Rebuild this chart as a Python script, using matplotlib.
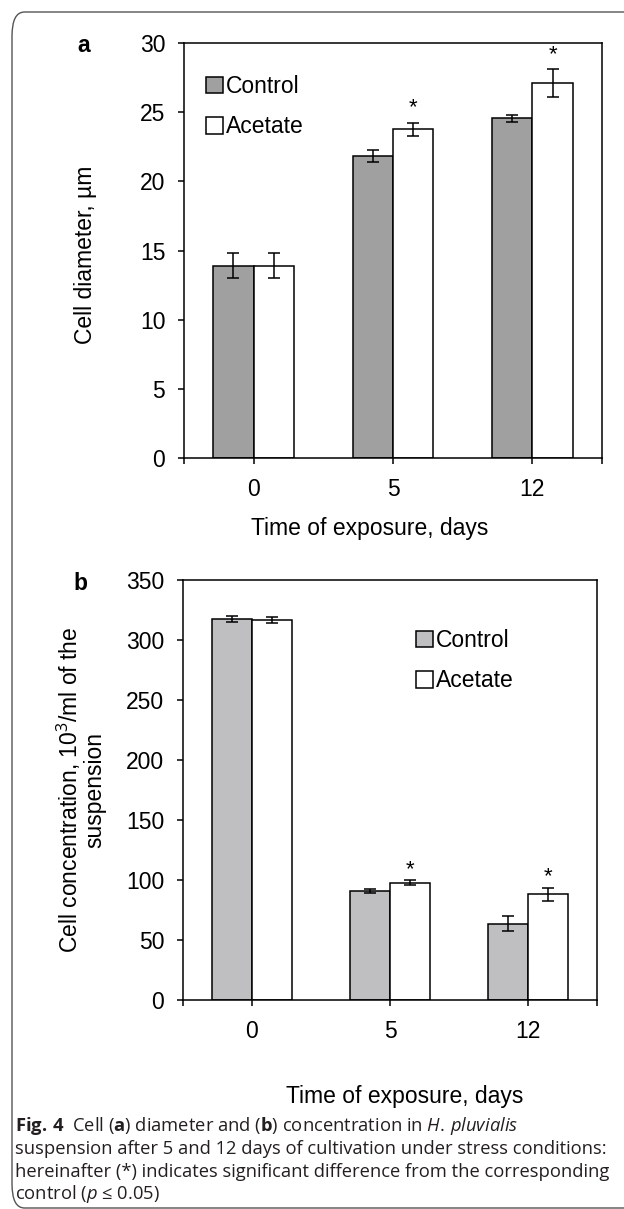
import matplotlib
matplotlib.use("Agg")
import matplotlib.pyplot as plt
from matplotlib.patches import FancyBboxPatch
import numpy as np

plt.rcParams['font.family'] = ['Liberation Sans', 'DejaVu Sans']
plt.rcParams['mathtext.fontset'] = 'custom'
plt.rcParams['mathtext.rm'] = 'Open Sans'
plt.rcParams['mathtext.bf'] = 'Open Sans:bold'
plt.rcParams['mathtext.it'] = 'Open Sans:italic'

# data
days = ["0", "5", "12"]
diam_control = [13.9, 21.85, 24.55]
diam_control_err = [0.9, 0.42, 0.25]
diam_acetate = [13.9, 23.75, 27.1]
diam_acetate_err = [0.9, 0.5, 1.0]
diam_signif = [False, True, True]

conc_control = [317.5, 90.6, 63.6]
conc_control_err = [2.5, 1.7, 6.4]
conc_acetate = [317.0, 97.8, 88.3]
conc_acetate_err = [2.5, 1.8, 5.4]
conc_signif = [False, True, True]

W, H = 624, 1209
fig = plt.figure(figsize=(W / 100, H / 100), dpi=100)

def px_axes(l, r, t, b):
    return fig.add_axes([l / W, 1 - b / H, (r - l) / W, (b - t) / H])

def panel(ax, ctrl, ctrl_err, acet, acet_err, signif, ctrl_color, ymax, ystep, star_pad):
    x = np.arange(len(days))
    w = 0.29
    ax.bar(x - w / 2, ctrl, w, color=ctrl_color, edgecolor='black', linewidth=1.1, label='Control')
    ax.bar(x + w / 2, acet, w, color='white', edgecolor='black', linewidth=1.1, label='Acetate')
    ax.errorbar(x - w / 2, ctrl, yerr=ctrl_err, fmt='none', ecolor='black',
                elinewidth=1.1, capsize=4, capthick=1.1)
    ax.errorbar(x + w / 2, acet, yerr=acet_err, fmt='none', ecolor='black',
                elinewidth=1.1, capsize=4, capthick=1.1)
    for i, s in enumerate(signif):
        if s:
            ax.annotate('*', (x[i] + w / 2, acet[i] + acet_err[i]), xytext=(0, star_pad),
                        textcoords='offset points', ha='center', va='bottom', fontsize=16)
    ax.set_xlim(-0.5, 2.5)
    ax.set_ylim(0, ymax)
    ax.set_yticks(np.arange(0, ymax + 1, ystep))
    ax.set_xticks(x)
    ax.set_xticklabels(days)
    ax.set_xticks([-0.5, 2.5], minor=True)
    ax.tick_params(axis='both', which='both', direction='out', length=4.5, width=1.1,
                   labelsize=16.5, colors='black')
    ax.tick_params(axis='x', pad=10)
    ax.tick_params(axis='y', pad=9)
    for sp in ax.spines.values():
        sp.set_linewidth(1.1)

# panel a
ax1 = px_axes(184, 602, 43, 458)
panel(ax1, diam_control, diam_control_err, diam_acetate, diam_acetate_err,
      diam_signif, '#A0A0A0', 30, 5, 3)
ax1.set_ylabel('Cell diameter, µm', fontsize=16.5)
ax1.yaxis.set_label_coords((97 - 184) / 418, 0.49)
ax1.legend(loc='upper left', bbox_to_anchor=(0.03, 0.945), frameon=False, fontsize=16.5,
           handlelength=0.75, handleheight=0.75, handletextpad=0.15, labelspacing=0.75,
           borderaxespad=0)
fig.text(370 / W, 1 - 528 / H, 'Time of exposure, days', ha='center', va='center', fontsize=16.5)
fig.text(84 / W, 1 - 45 / H, 'a', ha='center', va='center', fontsize=16.5, fontweight='bold')

# panel b
ax2 = px_axes(183, 597, 580, 1000)
panel(ax2, conc_control, conc_control_err, conc_acetate, conc_acetate_err,
      conc_signif, '#BFBFC1', 350, 50, 0)
ax2.set_ylabel('Cell concentration, 10$^3$/ml of the\nsuspension', fontsize=16.5,
               linespacing=1.0)
ax2.yaxis.set_label_coords((106 - 183) / 414, 0.5)
ax2.legend(loc='upper left', bbox_to_anchor=(0.54, 0.905), frameon=False, fontsize=16.5,
           handlelength=0.75, handleheight=0.75, handletextpad=0.15, labelspacing=0.75,
           borderaxespad=0)
fig.text(405 / W, 1 - 1096 / H, 'Time of exposure, days', ha='center', va='center', fontsize=16.5)
fig.text(80 / W, 1 - 584 / H, 'b', ha='center', va='center', fontsize=16.5, fontweight='bold')

# caption
cap_font = ['Open Sans', 'DejaVu Sans']
cap_lines = [
    r'$\mathbf{Fig.\,4}$  Cell ($\mathbf{a}$) diameter and ($\mathbf{b}$) concentration in $\mathit{H.\,pluvialis}$',
    'suspension after 5 and 12 days of cultivation under stress conditions:',
    'hereinafter (*) indicates significant difference from the corresponding',
    r'control ($\mathit{p}$ ≤ 0.05)',
]
cap_y = [1126, 1149, 1172, 1194]
for line, yy in zip(cap_lines, cap_y):
    fig.text(15 / W, 1 - yy / H, line, ha='left', va='center', fontsize=13.2,
             family=cap_font, color='#231f20')

# rounded frame
frame = FancyBboxPatch((12 / W, 1 - 1208 / H), 700 / W, 1196 / H,
                       boxstyle='round,pad=0,rounding_size=0.02',
                       transform=fig.transFigure, fill=False, edgecolor='#555555',
                       linewidth=1.0, clip_on=False)
fig.patches.append(frame)

fig.savefig('out.png', dpi=100)
